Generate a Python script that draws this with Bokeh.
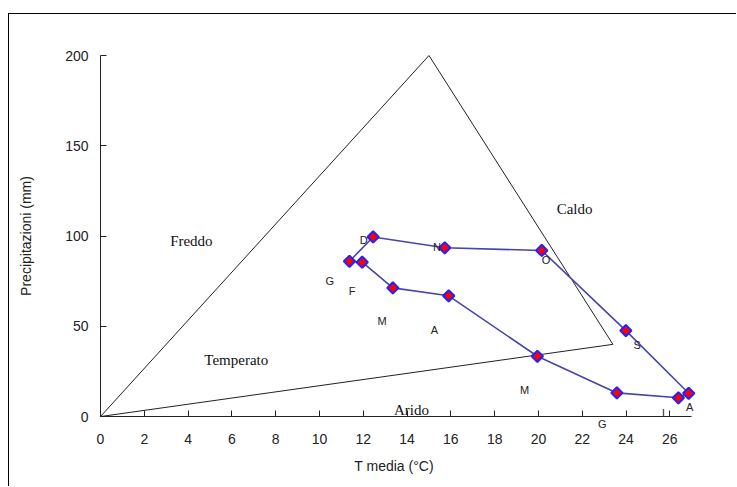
import numpy as np
from bokeh.plotting import figure
from bokeh.models import Range1d, FixedTicker, ColumnDataSource, LabelSet
from bokeh.core.properties import value
from bokeh.embed import file_html
from bokeh.resources import INLINE

# Monthly climate data (Jan..Dec)
months = ["G", "F", "M", "A", "M", "G", "L", "A", "S", "O", "N", "D"]
temp = [11.37, 11.95, 13.35, 15.9, 19.95, 23.58, 26.39, 26.86, 23.99, 20.15, 15.72, 12.45]
prec = [86.0, 85.5, 71.3, 66.9, 33.4, 13.1, 10.4, 12.9, 47.6, 92.0, 93.5, 99.5]
label_x = [10.47, 11.49, 12.86, 15.25, 19.36, 22.91, 25.78, 26.9, 24.51, 20.35, 15.37, 12.02]
label_y = [75.3, 69.8, 53.2, 48.2, 14.95, -4.0, 2.2, 5.5, 39.7, 86.6, 94.2, 98.0]

# Classification triangle
tri_x = [0, 15, 23.4]
tri_y = [0, 200, 40]

# Zone labels
zones = ["Freddo", "Caldo", "Temperato", "Arido"]
zone_x = [4.15, 21.65, 6.2, 14.2]
zone_y = [97, 115, 31.6, 3.9]

x_ticks = list(range(0, 27, 2))
y_ticks = [0, 50, 100, 150, 200]

p = figure(width=728, height=473, output_backend="svg", toolbar_location=None,
           x_range=Range1d(-4.155, 27.49), y_range=Range1d(-39.3, 205),
           min_border_left=0, min_border_right=35, min_border_top=32, min_border_bottom=0)
p.margin = (13, 0, 0, 8)
p.styles = {"border-top": "1px solid #000", "border-left": "1px solid #000",
            "border-right": "none", "border-bottom": "none"}
p.outline_line_color = None
p.xgrid.visible = False
p.ygrid.visible = False

# triangle (closed)
p.line(tri_x + tri_x[:1], tri_y + tri_y[:1], line_color="#222222", line_width=1)

# monthly loop (closed)
src = ColumnDataSource(dict(x=temp + temp[:1], y=prec + prec[:1]))
p.line("x", "y", source=src, line_color="#4646a6", line_width=1.6)
p.scatter(temp, prec, marker="square", angle=np.pi / 4, size=8,
          fill_color="#ff0000", line_color="#2222ff", line_width=2)

lab_src = ColumnDataSource(dict(x=label_x, y=label_y, t=months))
p.add_layout(LabelSet(x="x", y="y", text="t", source=lab_src,
                      text_font=value("Liberation Sans"),
                      text_font_size=value("11px"), text_color="#222222",
                      text_align="center", text_baseline="middle"))

zone_src = ColumnDataSource(dict(x=zone_x, y=zone_y, t=zones))
p.add_layout(LabelSet(x="x", y="y", text="t", source=zone_src,
                      text_font=value("Liberation Serif"),
                      text_font_size=value("15px"), text_color="#111111",
                      text_align="center", text_baseline="middle"))

for ax in (p.xaxis[0], p.yaxis[0]):
    ax.axis_line_color = "#222222"
    ax.major_tick_line_color = "#222222"
    ax.major_tick_in = 6
    ax.major_tick_out = 0
    ax.minor_tick_line_color = None
    ax.major_label_text_font = "Liberation Sans"
    ax.major_label_text_font_size = "14px"
    ax.major_label_text_color = "#222222"
    ax.axis_label_text_font = "Liberation Sans"
    ax.axis_label_text_font_size = "14px"
    ax.axis_label_text_font_style = "normal"
    ax.axis_label_text_color = "#222222"

p.xaxis.ticker = FixedTicker(ticks=x_ticks)
p.xaxis.bounds = (0, 27)
p.xaxis.fixed_location = 0
p.xaxis.axis_label = "T  media (°C)"
p.xaxis.major_label_standoff = 17
p.xaxis.axis_label_standoff = 11

p.yaxis.ticker = FixedTicker(ticks=y_ticks)
p.yaxis.bounds = (0, 200)
p.yaxis.fixed_location = 0
p.yaxis.axis_label = "Precipitazioni (mm)"
p.yaxis.major_label_standoff = 12
p.yaxis.axis_label_standoff = 28

open("out.html", "w").write(file_html(p, INLINE))
